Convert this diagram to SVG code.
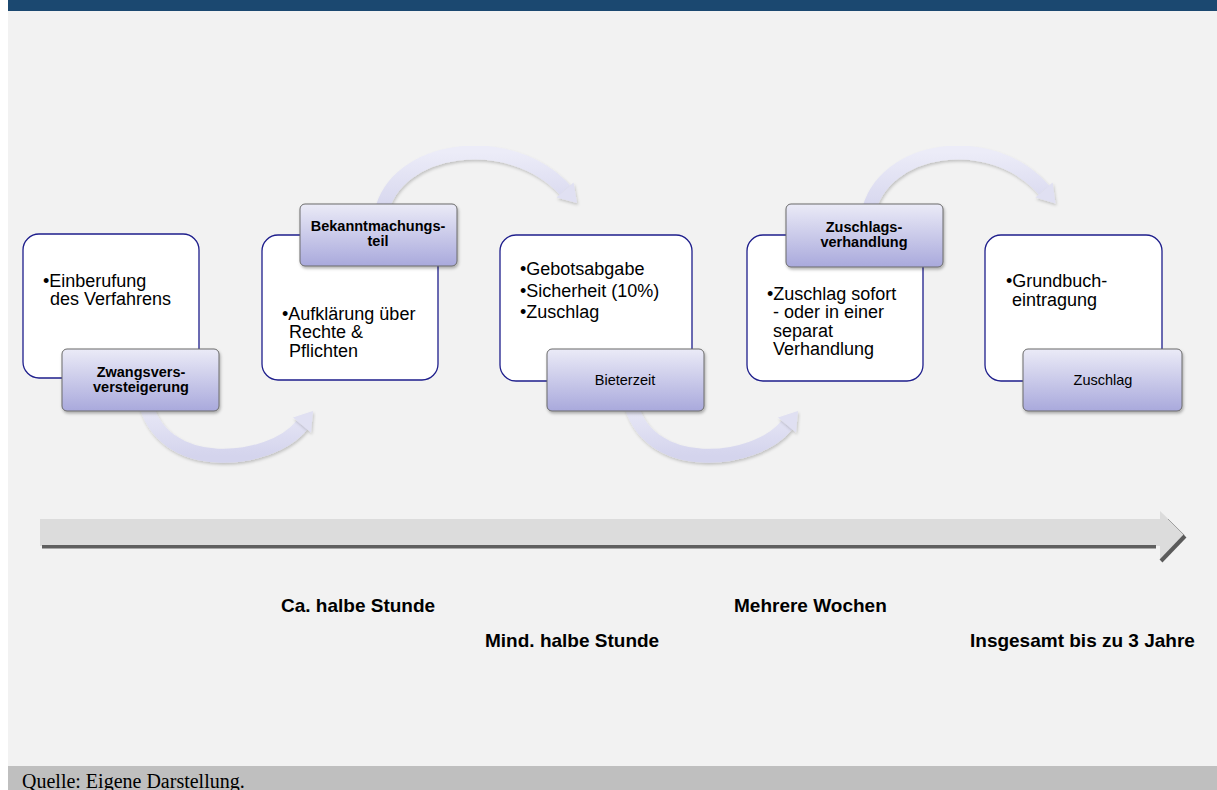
<svg xmlns="http://www.w3.org/2000/svg" width="1217" height="790" viewBox="0 0 1217 790">
<defs>
<style>
.box{fill:#ffffff;stroke:#1e1e8c;stroke-width:1.3}
.lbl{fill:url(#lg);stroke:#6a6a6a;stroke-width:1;filter:url(#sh)}
.body{font-family:"Liberation Sans",Arial,sans-serif;font-size:18px;fill:#000}
.lt{font-family:"Liberation Sans",Arial,sans-serif;font-size:14.5px;fill:#000;text-anchor:middle}
.b{font-weight:bold}
.arc{fill:none;stroke:url(#ag);stroke-width:14;filter:url(#sh2)}
.head{fill:#e0e0f2;filter:url(#sh2)}
.tl{font-family:"Liberation Sans",Arial,sans-serif;font-size:19px;font-weight:bold;fill:#000}
</style>
<linearGradient id="lg" x1="0" y1="0" x2="0" y2="1">
<stop offset="0" stop-color="#ebebf7"/>
<stop offset="1" stop-color="#a9a9dc"/>
</linearGradient>
<linearGradient id="ag" x1="0" y1="0" x2="0" y2="1">
<stop offset="0" stop-color="#ececf8"/>
<stop offset="1" stop-color="#d4d4ed"/>
</linearGradient>
<filter id="sh" x="-10%" y="-10%" width="125%" height="135%">
<feDropShadow dx="1" dy="2" stdDeviation="1.5" flood-color="#000" flood-opacity="0.3"/>
</filter>
<filter id="sh2" x="-10%" y="-10%" width="125%" height="135%">
<feDropShadow dx="1" dy="2" stdDeviation="1.5" flood-color="#000" flood-opacity="0.2"/>
</filter>
</defs>

<rect x="0" y="0" width="1217" height="790" fill="#ffffff"/>
<rect x="8" y="0" width="1209" height="790" fill="#f2f2f2"/>
<rect x="8" y="0" width="1209" height="11" fill="#1b4870"/>
<rect x="8" y="766" width="1209" height="24" fill="#bfbfbf"/>
<text x="22" y="788" font-family="'Liberation Serif','Times New Roman',serif" font-size="20" fill="#000">Quelle: Eigene Darstellung.</text>

<g id="timeline">
<rect x="40" y="519" width="1122" height="27" fill="#dcdcdc"/>
<polygon points="1160,511 1185,535 1160,560" fill="#dcdcdc"/>
<line x1="1168" y1="519" x2="1184" y2="535" stroke="#a0a0a0" stroke-width="1"/>
<rect x="42" y="545" width="1114" height="3" fill="#5f5f5f"/>
<rect x="42" y="548" width="1114" height="1" fill="#a8a8a8"/>
<line x1="1185" y1="536" x2="1161" y2="561" stroke="#5a5a5a" stroke-width="4"/>
</g>

<g id="node1-body"><rect class="box" x="23" y="234" width="176" height="144" rx="16"/></g>
<g id="node2-body"><rect class="box" x="262" y="235" width="176" height="145" rx="16"/></g>
<g id="node3-body"><rect class="box" x="500" y="235" width="192" height="146" rx="16"/></g>
<g id="node4-body"><rect class="box" x="747" y="235" width="176" height="146" rx="16"/></g>
<g id="node5-body"><rect class="box" x="985" y="235" width="177" height="146" rx="16"/></g>

<g id="connectors">
<path class="arc" d="M145,400 C160,475 270,465 302,425"/>
<polygon class="head" points="311,432.5 293,417.5 313,411"/>
<g transform="translate(485,0)">
<path class="arc" d="M145,400 C160,475 270,465 302,425"/>
<polygon class="head" points="311,432.5 293,417.5 313,411"/>
</g>
<path class="arc" d="M381,214 C395,145 510,130 565,190"/>
<polygon class="head" points="573.5,182.5 556.5,197.5 577,203"/>
<path class="arc" d="M868,214 C882,145 992,130 1044,190"/>
<polygon class="head" points="1052.6,182.5 1035.4,197.5 1055.5,203.5"/>
</g>

<g id="node1-text">
<text class="body" x="43" y="287">•Einberufung</text>
<text class="body" x="50" y="305">des Verfahrens</text>
</g>
<g id="node2-text">
<text class="body" x="282" y="320">•Aufklärung über</text>
<text class="body" x="289" y="338">Rechte &amp;</text>
<text class="body" x="289" y="357">Pflichten</text>
</g>
<g id="node3-text">
<text class="body" x="520" y="275">•Gebotsabgabe</text>
<text class="body" x="520" y="297">•Sicherheit (10%)</text>
<text class="body" x="520" y="318">•Zuschlag</text>
</g>
<g id="node4-text">
<text class="body" x="767" y="300">•Zuschlag sofort</text>
<text class="body" x="773" y="318">- oder in einer</text>
<text class="body" x="773" y="337">separat</text>
<text class="body" x="773" y="355">Verhandlung</text>
</g>
<g id="node5-text">
<text class="body" x="1006" y="287">•Grundbuch-</text>
<text class="body" x="1012" y="306">eintragung</text>
</g>

<g id="label1">
<rect class="lbl" x="62" y="349" width="157" height="62" rx="5"/>
<text class="lt b" x="141" y="377">Zwangsvers-</text>
<text class="lt b" x="141" y="392">versteigerung</text>
</g>
<g id="label2">
<rect class="lbl" x="300" y="204" width="157" height="62" rx="5"/>
<text class="lt b" x="378" y="231">Bekanntmachungs-</text>
<text class="lt b" x="378" y="246">teil</text>
</g>
<g id="label3">
<rect class="lbl" x="547" y="349" width="157" height="62" rx="5"/>
<text class="lt" x="625" y="385">Bieterzeit</text>
</g>
<g id="label4">
<rect class="lbl" x="786" y="204" width="157" height="63" rx="5"/>
<text class="lt b" x="864" y="232">Zuschlags-</text>
<text class="lt b" x="864" y="247">verhandlung</text>
</g>
<g id="label5">
<rect class="lbl" x="1023" y="349" width="159" height="62" rx="5"/>
<text class="lt" x="1103" y="385">Zuschlag</text>
</g>

<g id="durations">
<text class="tl" x="281" y="612">Ca. halbe Stunde</text>
<text class="tl" x="734" y="612">Mehrere Wochen</text>
<text class="tl" x="485" y="647">Mind. halbe Stunde</text>
<text class="tl" x="970" y="647">Insgesamt bis zu 3 Jahre</text>
</g>
</svg>
